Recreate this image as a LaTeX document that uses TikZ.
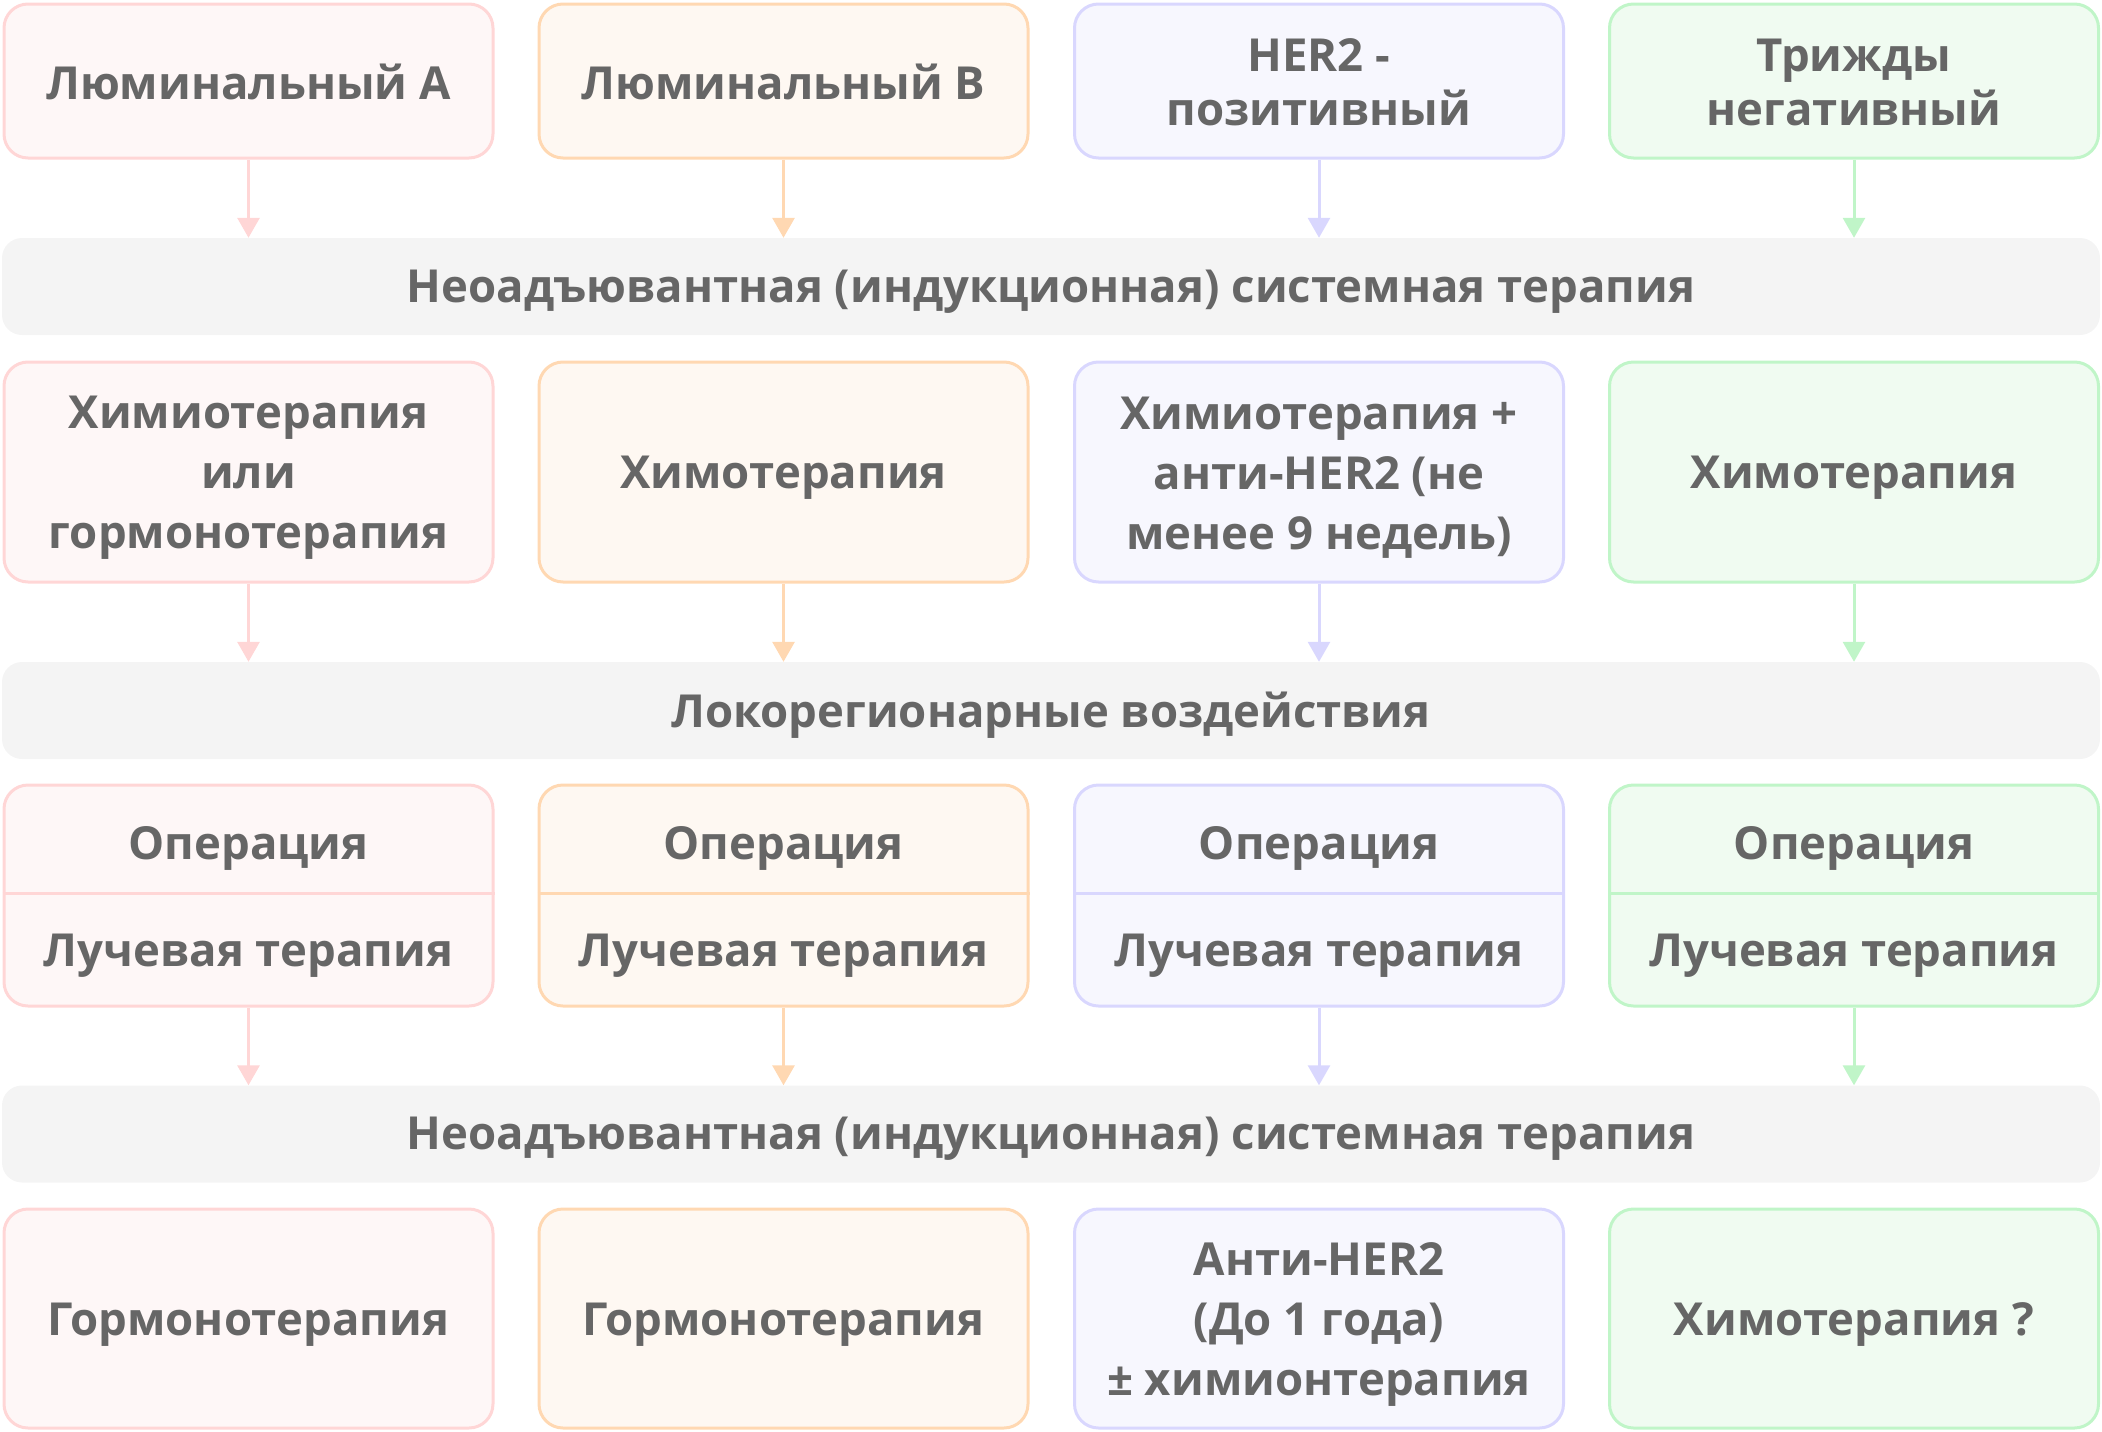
\documentclass[tikz,border=0pt]{standalone}
\usepackage{fontspec}
\setmainfont{Open Sans}
\usetikzlibrary{arrows.meta}
\definecolor{txt}{HTML}{666666}
\definecolor{sA}{HTML}{FFD6D6}\definecolor{fA}{HTML}{FEF7F7}
\definecolor{sB}{HTML}{FFD8B2}\definecolor{fB}{HTML}{FEF8F2}
\definecolor{sC}{HTML}{D9D7FE}\definecolor{fC}{HTML}{F7F7FE}
\definecolor{sD}{HTML}{C0F5C8}\definecolor{fD}{HTML}{F0FBF1}
\definecolor{barfill}{HTML}{F4F4F4}
\newcommand\mycell[7]{%
  \node[box,#2,minimum height=#5pt] (#1) at (#3,#4) {};
  \node[lbl,#7] (#1t) at ([yshift=-6pt]#1.center) {#6};
}
\newcommand\mybar[3]{%
  \node[bar] (#1) at (1051,#2) {};
  \node[lbl] (#1t) at ([yshift=-5pt]#1.center) {#3};
}
\begin{document}
\begin{tikzpicture}[x=1pt,y=-1pt,
  font=\fontsize{45.5}{60}\selectfont\bfseries,
  box/.style={draw, line width=3pt, rounded corners=24pt, minimum width=489pt,
    inner sep=0pt},
  cA/.style={draw=sA, fill=fA}, cB/.style={draw=sB, fill=fB},
  cC/.style={draw=sC, fill=fC}, cD/.style={draw=sD, fill=fD},
  bar/.style={fill=barfill, rounded corners=20pt, minimum width=2098pt,
    minimum height=97pt, inner sep=0pt},
  lbl/.style={text=txt, align=center, inner sep=0pt},
  top/.style={yshift=5pt, font=\fontsize{45.5}{54}\selectfont\bfseries},
  arr/.style={line width=3pt, -{Triangle[width=22pt,length=20pt]}}]
\useasboundingbox (0,0) rectangle (2102,1432);
\mycell{a1}{cA}{248.5}{81}{154}{Люминальный А}{top}
\mycell{b1}{cB}{783.5}{81}{154}{Люминальный В}{top}
\mycell{c1}{cC}{1319}{81}{154}{HER2 -\\позитивный}{top}
\mycell{d1}{cD}{1854}{81}{154}{Трижды\\негативный}{top}

\mybar{bar1}{286.5}{Неоадъювантная (индукционная) системная терапия}

\mycell{a2}{cA}{248.5}{472}{220}{Химиотерапия\\или\\гормонотерапия}{}
\mycell{b2}{cB}{783.5}{472}{220}{Химотерапия}{}
\mycell{c2}{cC}{1319}{472}{220}{Химиотерапия +\\анти-HER2 (не\\менее 9 недель)}{}
\mycell{d2}{cD}{1854}{472}{220}{Химотерапия}{}

\mybar{bar2}{710.5}{Локорегионарные воздействия}

\foreach \n/\c/\x in {a3/cA/248.5, b3/cB/783.5, c3/cC/1319, d3/cD/1854}{
  \node[box,\c,minimum height=221pt] (\n) at (\x,895.5) {};
}
\draw[sA,line width=3pt] ([yshift=2pt]a3.west) -- ([yshift=2pt]a3.east);
\draw[sB,line width=3pt] ([yshift=2pt]b3.west) -- ([yshift=2pt]b3.east);
\draw[sC,line width=3pt] ([yshift=2pt]c3.west) -- ([yshift=2pt]c3.east);
\draw[sD,line width=3pt] ([yshift=2pt]d3.west) -- ([yshift=2pt]d3.east);
\foreach \n/\x in {a/248.5, b/783.5, c/1319, d/1854}{
  \node[lbl] (\n op) at (\x,848) {Операция};
  \node[lbl] (\n lt) at (\x,956) {Лучевая терапия};
}

\mybar{bar3}{1134}{Неоадъювантная (индукционная) системная терапия}

\mycell{a4}{cA}{248.5}{1318.5}{219}{Гормонотерапия}{}
\mycell{b4}{cB}{783.5}{1318.5}{219}{Гормонотерапия}{}
\mycell{c4}{cC}{1319}{1318.5}{219}{Анти-HER2\\(До 1 года)\\± химионтерапия}{}
\mycell{d4}{cD}{1854}{1318.5}{219}{Химотерапия ?}{}

\foreach \n/\s in {a/sA, b/sB, c/sC, d/sD}{
  \draw[arr,draw=\s,fill=\s] (\n1.south) -- (\n1.south |- bar1.north);
  \draw[arr,draw=\s,fill=\s] (\n2.south) -- (\n2.south |- bar2.north);
  \draw[arr,draw=\s,fill=\s] (\n3.south) -- (\n3.south |- bar3.north);
}
\end{tikzpicture}
\end{document}
